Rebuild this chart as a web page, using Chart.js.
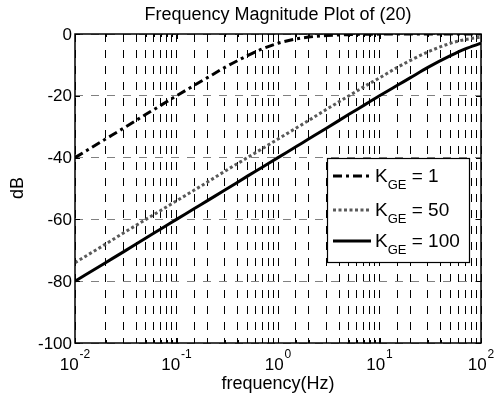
<!DOCTYPE html>
<html>
<head>
<meta charset="utf-8">
<script src="https://cdn.jsdelivr.net/npm/chart.js@4/dist/chart.umd.min.js"></script>
<style>
    body { margin: 0; background: #fff; }
    canvas { display: block; }
</style>
</head>
<body>
<canvas id="chart" width="497" height="403"></canvas>
<script>
// frequencies (Hz) sampled along the curves
const freqHz = [0.01, 0.02, 0.03, 0.05, 0.07, 0.1, 0.15, 0.2, 0.3, 0.5, 0.7, 1, 1.5, 2, 3, 5, 7, 10, 15, 20, 30, 50, 70, 100];

// magnitude (dB)
const magK1 = [-40.0, -34.0, -30.5, -26.0, -23.1, -20.0, -16.6, -14.2, -10.8, -7.0, -4.8, -3.0, -1.6, -1.0, -0.5, -0.2, -0.1, -0.04, -0.02, -0.01, 0, 0, 0, 0];
const magK50 = [-74.0, -68.0, -64.4, -60.0, -57.1, -54.0, -50.5, -48.0, -44.4, -40.0, -37.1, -34.0, -30.5, -28.0, -24.4, -20.0, -17.1, -14.2, -10.8, -8.6, -5.8, -3.0, -1.8, -1.0];
const magK100 = [-80.0, -74.0, -70.5, -66.0, -63.1, -60.0, -56.5, -54.0, -50.5, -46.0, -43.1, -40.0, -36.5, -34.0, -30.5, -26.0, -23.1, -20.0, -16.6, -14.2, -10.8, -7.0, -4.8, -3.0];

const legendValues = ['1', '50', '100'];
const xDecades = [-2, -1, 0, 1, 2];
const yTicks = [0, -20, -40, -60, -80, -100];

const FONT = '"Liberation Sans", Arial, Helvetica, sans-serif';

function points(vals) {
    return freqHz.map((f, i) => ({ x: f, y: vals[i] }));
}

const styles = [
    { color: '#000', dash: [9, 4, 3, 4] },
    { color: '#5a5a5a', dash: [3, 2.5] },
    { color: '#000', dash: [] }
];

// axes, labels, box and legend drawn on top
const decorPlugin = {
    id: 'decor',
    afterDraw(chart) {
        const ctx = chart.ctx;
        const area = chart.chartArea;
        const xs = chart.scales.x;
        const ys = chart.scales.y;
        ctx.save();

        // inner tick marks
        ctx.strokeStyle = '#000';
        ctx.lineWidth = 1;
        ctx.beginPath();
        xs.ticks.forEach(t => {
            const px = Math.round(xs.getPixelForValue(t.value)) + 0.5;
            const len = t.major ? 5 : 3;
            ctx.moveTo(px, area.bottom); ctx.lineTo(px, area.bottom - len);
            ctx.moveTo(px, area.top); ctx.lineTo(px, area.top + len);
        });
        yTicks.forEach(v => {
            const py = Math.round(ys.getPixelForValue(v)) + 0.5;
            ctx.moveTo(area.left, py); ctx.lineTo(area.left + 5, py);
            ctx.moveTo(area.right, py); ctx.lineTo(area.right - 5, py);
        });
        ctx.stroke();

        // box
        ctx.lineWidth = 1.5;
        ctx.strokeRect(area.left, area.top, area.right - area.left, area.bottom - area.top);

        ctx.fillStyle = '#000';

        // y tick labels
        ctx.font = '17px ' + FONT;
        ctx.textAlign = 'right';
        ctx.textBaseline = 'middle';
        yTicks.forEach(v => {
            ctx.fillText(String(v), area.left - 3, ys.getPixelForValue(v) + 1);
        });

        // x tick labels 10^n
        ctx.textBaseline = 'alphabetic';
        ctx.textAlign = 'left';
        xDecades.forEach(e => {
            const px = xs.getPixelForValue(Math.pow(10, e));
            ctx.font = '17px ' + FONT;
            const wBase = ctx.measureText('10').width;
            ctx.font = '12px ' + FONT;
            const wExp = ctx.measureText(String(e)).width;
            const x0 = px - (wBase + 1 + wExp) / 2;
            ctx.font = '17px ' + FONT;
            ctx.fillText('10', x0, 370);
            ctx.font = '12px ' + FONT;
            ctx.fillText(String(e), x0 + wBase + 1, 358);
        });

        // title and axis labels
        ctx.textAlign = 'center';
        ctx.font = '18px ' + FONT;
        ctx.fillText('Frequency Magnitude Plot of (20)', (area.left + area.right) / 2, 20);
        ctx.fillText('frequency(Hz)', (area.left + area.right) / 2, 389);
        ctx.save();
        ctx.translate(23, 188);
        ctx.rotate(-Math.PI / 2);
        ctx.fillText('dB', 0, 0);
        ctx.restore();

        // legend
        const lx = 327, ly = 158, lw = 142, lh = 104;
        ctx.fillStyle = '#fff';
        ctx.fillRect(lx, ly, lw, lh);
        ctx.strokeStyle = '#000';
        ctx.lineWidth = 1.2;
        ctx.strokeRect(lx + 0.5, ly + 0.5, lw, lh);
        const rows = [176, 210, 241];
        legendValues.forEach((v, i) => {
            const y = rows[i];
            ctx.strokeStyle = styles[i].color;
            ctx.lineWidth = 3;
            ctx.setLineDash(styles[i].dash);
            ctx.beginPath();
            ctx.moveTo(333, y); ctx.lineTo(371, y);
            ctx.stroke();
            ctx.setLineDash([]);
            ctx.fillStyle = '#000';
            ctx.textAlign = 'left';
            ctx.font = '19px ' + FONT;
            ctx.fillText('K', 375, y + 6);
            const kw = ctx.measureText('K').width;
            ctx.font = '13px ' + FONT;
            ctx.fillText('GE', 375 + kw, y + 13);
            const gw = ctx.measureText('GE').width;
            ctx.font = '19px ' + FONT;
            ctx.fillText(' = ' + v, 375 + kw + gw, y + 6);
        });

        ctx.restore();
    }
};

new Chart(document.getElementById('chart'), {
    type: 'line',
    data: {
        datasets: [
            { label: 'K_GE = 1', data: points(magK1) },
            { label: 'K_GE = 50', data: points(magK50) },
            { label: 'K_GE = 100', data: points(magK100) }
        ].map((d, i) => Object.assign(d, {
            borderColor: styles[i].color,
            borderDash: styles[i].dash,
            borderWidth: 3,
            pointRadius: 0,
            fill: false,
            cubicInterpolationMode: 'monotone',
            clip: 0
        }))
    },
    options: {
        responsive: false,
        animation: false,
        layout: { padding: { left: 75, top: 34, right: 16, bottom: 60 } },
        plugins: {
            legend: { display: false },
            title: { display: false },
            tooltip: { enabled: false }
        },
        scales: {
            x: {
                type: 'logarithmic',
                min: 0.01,
                max: 100,
                ticks: { display: false, autoSkip: false },
                grid: { color: '#000', lineWidth: 1, drawTicks: false },
                border: { display: false, dash: [8, 8] },
                afterFit: s => { s.height = 0; }
            },
            y: {
                min: -100,
                max: 0,
                ticks: { display: false, stepSize: 20 },
                grid: { color: '#808080', lineWidth: 1, drawTicks: false },
                border: { display: false, dash: [8, 8] },
                afterFit: s => { s.width = 0; }
            }
        }
    },
    plugins: [decorPlugin]
});
</script>
</body>
</html>
